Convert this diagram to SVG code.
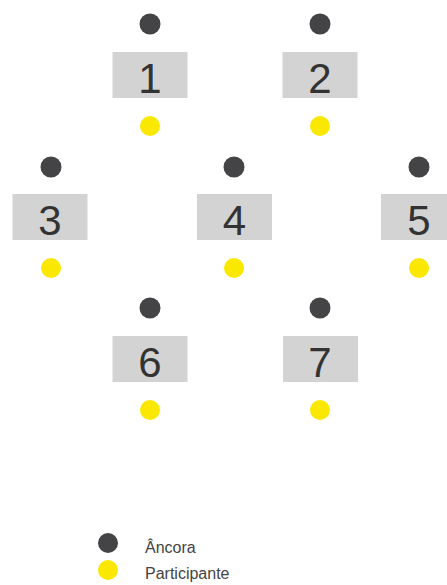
<svg xmlns="http://www.w3.org/2000/svg" width="447" height="585" viewBox="0 0 447 585">
<style>
.box{fill:#d3d3d3}
.anc{fill:#444446}
.par{fill:#fae800}
.num{font-family:"Liberation Sans",Arial,sans-serif;font-size:42px;fill:#333;text-anchor:middle}
.leg{font-family:"Liberation Sans",Arial,sans-serif;font-size:16px;fill:#444}
</style>
<rect width="447" height="585" fill="#fff"/>
<g id="connectors"></g>
<g id="node1"><circle class="anc" cx="150" cy="24" r="10.5"/><rect class="box" x="112.5" y="52" width="75" height="46"/><text class="num" x="150" y="93">1</text><circle class="par" cx="150" cy="126" r="10"/></g>
<g id="node2"><circle class="anc" cx="320" cy="24" r="10.5"/><rect class="box" x="282.5" y="52" width="75" height="46"/><text class="num" x="320" y="93">2</text><circle class="par" cx="320" cy="126" r="10"/></g>
<g id="node3"><circle class="anc" cx="51" cy="167" r="10.5"/><rect class="box" x="12.5" y="194" width="75" height="46"/><text class="num" x="50" y="235">3</text><circle class="par" cx="51" cy="268" r="10"/></g>
<g id="node4"><circle class="anc" cx="234" cy="167" r="10.5"/><rect class="box" x="197" y="194" width="75" height="46"/><text class="num" x="234.5" y="235">4</text><circle class="par" cx="234" cy="268" r="10"/></g>
<g id="node5"><circle class="anc" cx="419" cy="167" r="10.5"/><rect class="box" x="381" y="194" width="75" height="46"/><text class="num" x="419" y="235">5</text><circle class="par" cx="419" cy="268" r="10"/></g>
<g id="node6"><circle class="anc" cx="150" cy="308" r="10.5"/><rect class="box" x="112.5" y="336" width="75" height="46"/><text class="num" x="150" y="377">6</text><circle class="par" cx="150" cy="410" r="10"/></g>
<g id="node7"><circle class="anc" cx="320" cy="308" r="10.5"/><rect class="box" x="283" y="336" width="75" height="46"/><text class="num" x="320" y="377">7</text><circle class="par" cx="320" cy="410" r="10"/></g>
<g id="legend">
<circle class="anc" cx="108" cy="543" r="10"/><text class="leg" x="145" y="553">Âncora</text>
<circle class="par" cx="108" cy="570" r="10"/><text class="leg" x="145" y="579">Participante</text>
</g>
</svg>
